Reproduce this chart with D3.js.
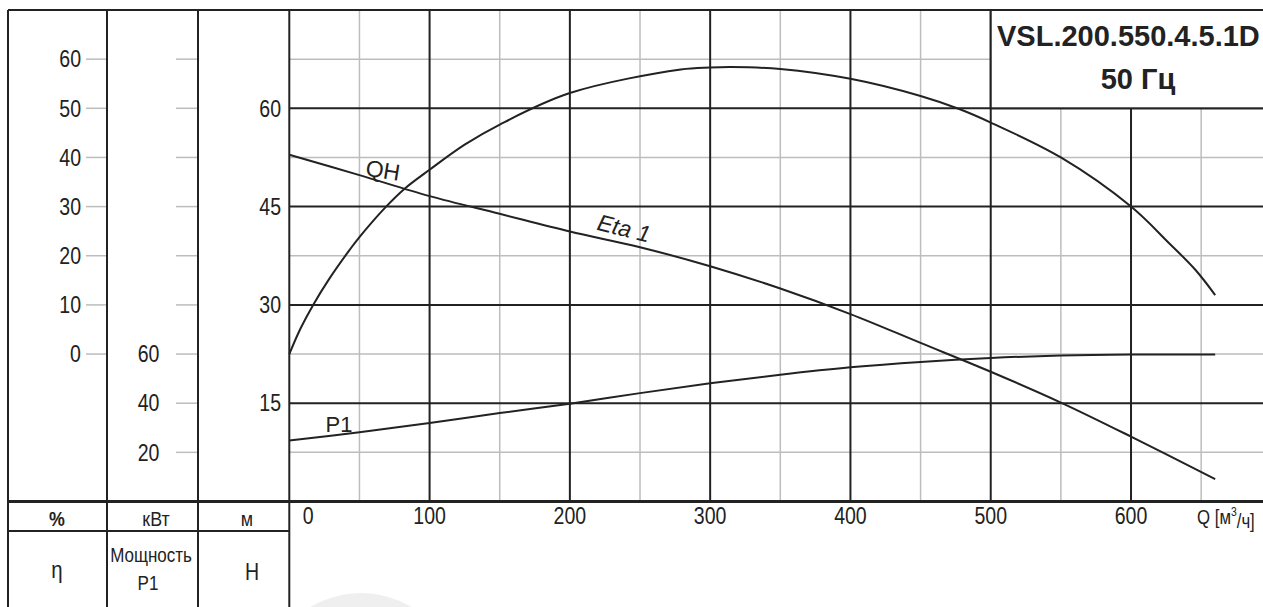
<!DOCTYPE html>
<html><head><meta charset="utf-8">
<script src="https://cdn.jsdelivr.net/npm/d3@7"></script>
<style>
body{margin:0;background:#fff;}
svg{display:block;font-family:"Liberation Sans",Arial,Helvetica,sans-serif;}
</style>
</head><body>
<svg id="c" width="1263" height="607"></svg>
<script>
// ---- data ----
const flowTicks = [0, 100, 200, 300, 400, 500, 600];
const flowMinor = [50, 150, 250, 350, 450, 550, 650];
const headTicks = [15, 30, 45, 60];
const headMinor = [7.5, 22.5, 37.5, 52.5, 67.5];
const etaTicks = [0, 10, 20, 30, 40, 50, 60];
const powerTicks = [20, 40, 60];
const powerTickMarks = [20, 40, 60, 80, 100, 120, 140, 160, 180];

const qhQ = [0, 50, 100, 150, 200, 250, 300, 350, 400, 450, 500, 550, 600, 660];
const qhH = [52.9, 49.8, 46.6, 43.9, 41.2, 38.8, 35.9, 32.5, 28.6, 24.2, 19.8, 15.1, 9.9, 3.4];

const etaQ = [0, 8, 17, 28, 43, 50, 69, 82, 100, 125, 150, 200, 279, 300, 315, 350, 400, 450, 478, 500, 550, 600, 627, 646, 660];
const etaV = [0, 5.2, 10, 15.1, 21.2, 23.8, 30, 33.6, 37.5, 42.6, 46.7, 53.1, 57.9, 58.3, 58.4, 58.0, 56.0, 52.5, 49.8, 47.1, 40.0, 30, 22.6, 17.1, 12];

const p1Q = [0, 50, 100, 150, 200, 250, 300, 350, 400, 450, 500, 550, 600, 660];
const p1P = [24.8, 28.2, 31.9, 36, 39.8, 44.1, 48.1, 51.6, 54.6, 56.8, 58.4, 59.4, 59.8, 59.8];

const titleLines = ["VSL.200.550.4.5.1D", "50 Гц"];
const unitLabels = ["%", "кВт", "м"];

// ---- layout ----
const W = 1263, Hh = 607;
const frameL = 8, col1 = 107, col2 = 198, col3 = 289.3, topY = 10, axisY = 501.5, row2 = 531;
const ink = "#222", grey = "#bdbdbd";
const SX = 0.85;

const svg = d3.select("#c");
svg.append("rect").attr("width", W).attr("height", Hh).attr("fill", "#fff");

const x = d3.scaleLinear().domain([0, 700]).range([col3, col3 + 982]);
const yH = d3.scaleLinear().domain([0, 75]).range([axisY, topY]);
const yEta = d3.scaleLinear().domain([-30, 70]).range([axisY, topY]);
const yP = d3.scaleLinear().domain([0, 200]).range([axisY, topY]);

// condensed text helper
function ctext(sel, px, py, sx) {
  return sel.attr("transform", (d, i) => `translate(${typeof px === "function" ? px(d, i) : px},${typeof py === "function" ? py(d, i) : py}) scale(${sx || SX},1)`);
}

// watermark blob
svg.append("circle").attr("cx", 361).attr("cy", 691).attr("r", 98).attr("fill", "#efefef");

const g = svg.append("g");
// minor grid
g.selectAll(".vmin").data(flowMinor).join("line")
  .attr("x1", d => x(d)).attr("x2", d => x(d)).attr("y1", topY).attr("y2", axisY)
  .attr("stroke", grey).attr("stroke-width", 1.5);
g.selectAll(".hmin").data(headMinor).join("line")
  .attr("x1", col3).attr("x2", W).attr("y1", d => yH(d)).attr("y2", d => yH(d))
  .attr("stroke", grey).attr("stroke-width", 1.5);
// major grid
g.selectAll(".vmaj").data(flowTicks.slice(1)).join("line")
  .attr("x1", d => x(d)).attr("x2", d => x(d)).attr("y1", topY).attr("y2", axisY)
  .attr("stroke", ink).attr("stroke-width", 2);
g.selectAll(".hmaj").data(headTicks).join("line")
  .attr("x1", col3).attr("x2", W).attr("y1", d => yH(d)).attr("y2", d => yH(d))
  .attr("stroke", ink).attr("stroke-width", 2);

// title box
svg.append("rect").attr("x", x(500)).attr("y", topY).attr("width", 400).attr("height", yH(60) - topY)
  .attr("fill", "#fff").attr("stroke", ink).attr("stroke-width", 2);
svg.append("text").attr("x", 997).attr("y", 46).text(titleLines[0])
  .attr("font-size", 29).attr("font-weight", "bold").attr("fill", ink);
svg.append("text").attr("x", 1138).attr("y", 89).attr("text-anchor", "middle").text(titleLines[1])
  .attr("font-size", 29).attr("font-weight", "bold").attr("fill", ink);

// left column ticks
svg.selectAll(".etat").data(etaTicks).join("line")
  .attr("x1", 86).attr("x2", col1).attr("y1", d => yEta(d)).attr("y2", d => yEta(d))
  .attr("stroke", grey).attr("stroke-width", 1.5);
svg.selectAll(".pt").data(powerTickMarks).join("line")
  .attr("x1", 176).attr("x2", col2).attr("y1", d => yP(d)).attr("y2", d => yP(d))
  .attr("stroke", grey).attr("stroke-width", 1.5);

const fs = 23;
ctext(svg.selectAll(".etal").data(etaTicks).join("text"), 81, d => yEta(d))
  .attr("dy", "0.36em").attr("text-anchor", "end")
  .attr("font-size", fs).attr("fill", ink).text(d => d);
ctext(svg.selectAll(".pl").data(powerTicks).join("text"), 148.5, d => yP(d))
  .attr("dy", "0.36em").attr("text-anchor", "middle")
  .attr("font-size", fs).attr("fill", ink).text(d => d);
ctext(svg.selectAll(".hl").data(headTicks).join("text"), 281, d => yH(d))
  .attr("dy", "0.36em").attr("text-anchor", "end")
  .attr("font-size", fs).attr("fill", ink).text(d => d);

// flow tick labels
ctext(svg.selectAll(".ql").data(flowTicks).join("text"), d => d === 0 ? x(d) + 19 : x(d), 516)
  .attr("dy", "0.36em").attr("text-anchor", "middle")
  .attr("font-size", fs).attr("fill", ink).text(d => d);
const qlab = ctext(svg.append("text"), 1197, 516, 0.8).attr("dy", "0.36em")
  .attr("font-size", 21).attr("fill", ink);
qlab.append("tspan").text("Q [м");
qlab.append("tspan").text("3").attr("font-size", 13).attr("dy", "-0.55em");
qlab.append("tspan").text("/ч]").attr("dy", "0.55em");

// curves
const line = d3.line().curve(d3.curveCatmullRom.alpha(0.5));
const curveStyle = sel => sel.attr("fill", "none").attr("stroke", ink).attr("stroke-width", 2);
svg.append("path").attr("d", line(qhQ.map((q, i) => [x(q), yH(qhH[i])]))).call(curveStyle);
svg.append("path").attr("d", line(etaQ.map((q, i) => [x(q), yEta(etaV[i])]))).call(curveStyle);
svg.append("path").attr("d", line(p1Q.map((q, i) => [x(q), yP(p1P[i])]))).call(curveStyle);

// curve labels
svg.append("text").attr("transform", "translate(383,170) rotate(9)").attr("text-anchor", "middle")
  .attr("dy", "0.36em").attr("font-size", 23).attr("fill", ink).text("QH");
svg.append("text").attr("transform", "translate(624,228) rotate(14)").attr("text-anchor", "middle")
  .attr("dy", "0.36em").attr("font-size", 23).attr("font-style", "italic").attr("fill", ink).text("Eta 1");
svg.append("text").attr("x", 339).attr("y", 424).attr("text-anchor", "middle")
  .attr("dy", "0.36em").attr("font-size", 22).attr("fill", ink).text("P1");

// frame and table lines
const fr = svg.append("g").attr("stroke", ink).attr("stroke-width", 2);
fr.append("line").attr("x1", frameL).attr("x2", W).attr("y1", topY).attr("y2", topY);
[frameL, col1, col2, col3].forEach(cx => fr.append("line").attr("x1", cx).attr("x2", cx).attr("y1", topY).attr("y2", Hh));
fr.append("line").attr("x1", frameL).attr("x2", W).attr("y1", axisY).attr("y2", axisY).attr("stroke-width", 3);
fr.append("line").attr("x1", frameL).attr("x2", col3).attr("y1", row2).attr("y2", row2);

// unit row
const unitX = [57, 156, 247];
ctext(svg.selectAll(".ul").data(unitLabels).join("text"), (d, i) => unitX[i], 518)
  .attr("dy", "0.36em").attr("text-anchor", "middle")
  .attr("font-size", 21).attr("font-weight", (d, i) => i === 0 ? "bold" : "normal")
  .attr("fill", ink).text(d => d);
// name row
ctext(svg.append("text"), 57, 569).attr("dy", "0.36em").attr("text-anchor", "middle")
  .attr("font-size", 24).attr("fill", ink).text("η");
ctext(svg.append("text"), 151, 555).attr("dy", "0.36em").attr("text-anchor", "middle")
  .attr("font-size", 20).attr("fill", ink).text("Мощность");
ctext(svg.append("text"), 148, 583).attr("dy", "0.36em").attr("text-anchor", "middle")
  .attr("font-size", 20).attr("fill", ink).text("P1");
ctext(svg.append("text"), 252, 572).attr("dy", "0.36em").attr("text-anchor", "middle")
  .attr("font-size", 23).attr("fill", ink).text("H");
</script>
</body></html>
